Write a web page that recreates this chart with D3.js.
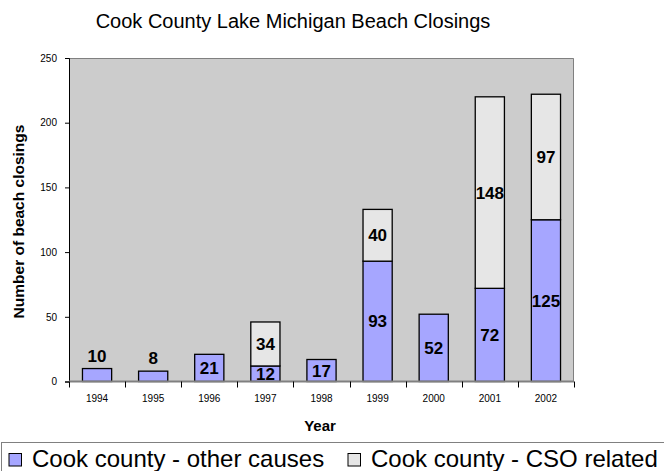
<!DOCTYPE html>
<html>
<head>
<meta charset="utf-8">
<script src="https://cdn.jsdelivr.net/npm/d3@7"></script>
<style>
  body { margin: 0; background: #fff; }
  svg { display: block; font-family: "Liberation Sans", Arial, sans-serif; }
  .tick-label { font-size: 10px; fill: #000; }
  .data-label { font-size: 17px; font-weight: bold; fill: #000; }
</style>
</head>
<body>
<div id="chart"></div>
<script>
// data
const years = ["1994", "1995", "1996", "1997", "1998", "1999", "2000", "2001", "2002"];
const otherCauses = [10, 8, 21, 12, 17, 93, 52, 72, 125];
const csoRelated = [0, 0, 0, 34, 0, 40, 0, 148, 97];
const yTicks = [0, 50, 100, 150, 200, 250];
const seriesNames = ["Cook county - other causes", "Cook county - CSO related"];
const seriesColors = ["#a6a6ff", "#e6e6e6"];
// small bars get their label above the bar
const labelAbove = ["1994", "1995"];

const W = 664, H = 471;
const plot = { left: 69, right: 574, top: 58, bottom: 381.5 };

const svg = d3.select("#chart").append("svg")
  .attr("width", W)
  .attr("height", H);

// title
svg.append("text")
  .attr("x", 293)
  .attr("y", 28)
  .attr("text-anchor", "middle")
  .style("font-size", "20px")
  .text("Cook County Lake Michigan Beach Closings");

const x = d3.scaleBand()
  .domain(years)
  .range([plot.left, plot.right])
  .paddingInner(0.48)
  .paddingOuter(0.24);

const y = d3.scaleLinear()
  .domain([0, 250])
  .range([plot.bottom, plot.top]);

// plot background
svg.append("rect")
  .attr("x", plot.left)
  .attr("y", plot.top)
  .attr("width", plot.right - plot.left)
  .attr("height", plot.bottom - plot.top)
  .attr("fill", "#cccccc");
svg.append("path")
  .attr("d", `M${plot.left},${plot.top + 0.5}H${plot.right - 0.5}V${plot.bottom}`)
  .attr("fill", "none")
  .attr("stroke", "#808080")
  .attr("stroke-width", 1);

// stacked bars
const rows = years.map((yr, i) => ({ year: yr, other: otherCauses[i], cso: csoRelated[i] }));
const stacked = d3.stack().keys(["other", "cso"])(rows);

svg.append("g")
  .selectAll("g")
  .data(stacked)
  .join("g")
  .attr("fill", (d, i) => seriesColors[i])
  .selectAll("rect")
  .data((d) => d.filter((p) => p[1] - p[0] > 0))
  .join("rect")
  .attr("x", (d) => x(d.data.year))
  .attr("y", (d) => y(d[1]))
  .attr("width", x.bandwidth())
  .attr("height", (d) => y(d[0]) - y(d[1]))
  .attr("stroke", "#000")
  .attr("stroke-width", 1.3);

// data labels
const labels = [];
stacked.forEach((s) => {
  s.forEach((p) => {
    const v = p[1] - p[0];
    if (v > 0) labels.push({ year: p.data.year, v: v, lo: p[0], hi: p[1] });
  });
});

svg.append("g")
  .selectAll("text")
  .data(labels)
  .join("text")
  .attr("class", "data-label")
  .attr("text-anchor", "middle")
  .attr("x", (d) => x(d.year) + x.bandwidth() / 2)
  .attr("y", (d) => labelAbove.includes(d.year)
    ? y(d.hi) - 7
    : (y(d.lo) + y(d.hi)) / 2 + 6)
  .text((d) => d.v);

// y axis
const yAxis = svg.append("g")
  .attr("transform", `translate(${plot.left},0)`)
  .call(d3.axisLeft(y).tickValues(yTicks).tickSize(4).tickPadding(8));
yAxis.select(".domain").attr("stroke", "#000");
yAxis.selectAll(".tick text").attr("class", "tick-label").attr("font-family", null).attr("font-size", null);

// x axis baseline + ticks at band boundaries
svg.append("line")
  .attr("x1", plot.left)
  .attr("x2", plot.right)
  .attr("y1", plot.bottom)
  .attr("y2", plot.bottom)
  .attr("stroke", "#808080")
  .attr("stroke-width", 2);

const bounds = d3.range(years.length + 1).map((i) => plot.left + i * x.step());
svg.append("g")
  .selectAll("line")
  .data(bounds)
  .join("line")
  .attr("x1", (d) => Math.round(d) + 0.5)
  .attr("x2", (d) => Math.round(d) + 0.5)
  .attr("y1", plot.bottom)
  .attr("y2", plot.bottom + 6)
  .attr("stroke", "#000");

svg.append("g")
  .selectAll("text")
  .data(years)
  .join("text")
  .attr("class", "tick-label")
  .attr("text-anchor", "middle")
  .attr("x", (d) => x(d) + x.bandwidth() / 2)
  .attr("y", 402)
  .text((d) => d);

// axis titles
svg.append("text")
  .attr("x", 320)
  .attr("y", 431)
  .attr("text-anchor", "middle")
  .style("font-size", "15px")
  .style("font-weight", "bold")
  .text("Year");

svg.append("text")
  .attr("transform", "translate(23.5,221.5) rotate(-90)")
  .attr("text-anchor", "middle")
  .style("font-size", "15.5px")
  .style("font-weight", "bold")
  .text("Number of beach closings");

// legend
svg.append("rect")
  .attr("x", 1.5)
  .attr("y", 442.5)
  .attr("width", 700)
  .attr("height", 60)
  .attr("fill", "#fff")
  .attr("stroke", "#808080");

const legendX = [9, 348];
const legend = svg.append("g")
  .selectAll("g")
  .data(seriesNames)
  .join("g")
  .attr("transform", (d, i) => `translate(${legendX[i]},0)`);
legend.append("rect")
  .attr("y", 453.5)
  .attr("width", 12.5)
  .attr("height", 12.5)
  .attr("fill", (d, i) => seriesColors[i])
  .attr("stroke", "#000");
legend.append("text")
  .attr("x", 23)
  .attr("y", 467)
  .style("font-size", "24px")
  .text((d) => d);
</script>
</body>
</html>
